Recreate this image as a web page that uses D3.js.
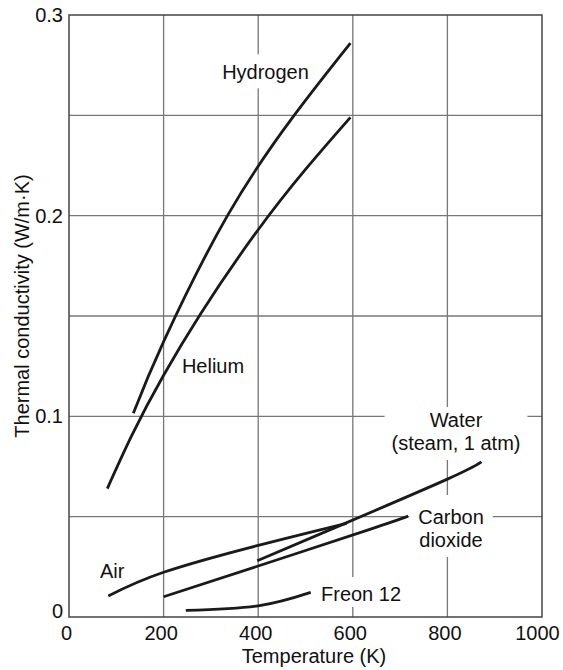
<!DOCTYPE html>
<html>
<head>
<meta charset="utf-8">
<script src="https://cdn.jsdelivr.net/npm/d3@7"></script>
<style>
  html, body { margin: 0; padding: 0; background: #fff; }
  svg { display: block; }
  text { font-family: "Liberation Sans", Arial, Helvetica, sans-serif; fill: #111; }
</style>
</head>
<body>
<svg id="chart" width="563" height="670"></svg>
<script>
// Thermal conductivity of gases vs temperature
const xTicks = [0, 200, 400, 600, 800, 1000];
const yTicks = [0, 0.1, 0.2, 0.3];
const xGrid = [200, 400, 600, 800];
const yGrid = [0.05, 0.1, 0.15, 0.2, 0.25];

const hydrogenT = [136, 200, 335, 476, 595];
const hydrogenK = [0.1015, 0.1372, 0.2, 0.25, 0.286];

const heliumT = [81, 200, 400, 595];
const heliumK = [0.064, 0.1205, 0.193, 0.249];

const airT = [83, 200, 400, 587];
const airK = [0.0105, 0.0223, 0.0357, 0.0467];

const co2T = [200, 400, 636, 717];
const co2K = [0.0101, 0.0254, 0.0437, 0.0503];

const waterT = [398, 580, 800, 872];
const waterK = [0.028, 0.0463, 0.0687, 0.0773];

const freonT = [247, 400, 511];
const freonK = [0.0033, 0.0056, 0.0123];

const seriesNames = ["Hydrogen", "Helium", "Air", "Carbon dioxide", "Water", "Freon 12"];
const seriesT = [hydrogenT, heliumT, airT, co2T, waterT, freonT];
const seriesK = [hydrogenK, heliumK, airK, co2K, waterK, freonK];

const svg = d3.select("#chart");
const plot = { left: 69, right: 542, top: 15, bottom: 617 };

const x = d3.scaleLinear().domain([0, 1000]).range([plot.left, plot.right]);
const y = d3.scaleLinear().domain([0, 0.3]).range([plot.bottom, plot.top]);

const FONT = 20;

// grid
const grid = svg.append("g").attr("stroke", "#777").attr("stroke-width", 1.3);
grid.selectAll("line.v").data(xGrid).join("line")
  .attr("x1", d => x(d)).attr("x2", d => x(d))
  .attr("y1", plot.top).attr("y2", plot.bottom);
grid.selectAll("line.h").data(yGrid).join("line")
  .attr("x1", plot.left).attr("x2", plot.right)
  .attr("y1", d => y(d)).attr("y2", d => y(d));

// in-plot labels; each sits on a white box that interrupts the grid
// pad = [horizontal, top, bottom]
const labels = [
  { lines: ["Hydrogen"], cx: 265.5, base: 79.3, anchor: "middle", pad: [6, 7, 5] },
  { lines: ["Helium"], cx: 213, base: 372.5, anchor: "middle", pad: [4, 2, 2] },
  { lines: ["Water", "(steam, 1 atm)"], cx: 456, base: 427, anchor: "middle", pad: [7, 2, 6] },
  { lines: ["Carbon", "dioxide"], cx: 451, base: 524, anchor: "middle", pad: [9, 11, 6] },
  { lines: ["Freon 12"], cx: 321, base: 601, anchor: "start", pad: [5, 6, 2] },
  { lines: ["Air"], cx: 100, base: 578, anchor: "start", pad: [3, 2, 2] }
];
const lineGap = 23;

const boxLayer = svg.append("g");
const curveLayer = svg.append("g");
const textLayer = svg.append("g");

labels.forEach(l => {
  const g = textLayer.append("g");
  l.lines.forEach((s, i) => {
    g.append("text")
      .attr("x", l.cx).attr("y", l.base + i * lineGap)
      .attr("text-anchor", l.anchor)
      .attr("font-size", FONT)
      .text(s);
  });
  const bb = g.node().getBBox();
  boxLayer.append("rect")
    .attr("x", bb.x - l.pad[0]).attr("y", bb.y - l.pad[1])
    .attr("width", bb.width + 2 * l.pad[0]).attr("height", bb.height + l.pad[1] + l.pad[2])
    .attr("fill", "#fff");
});

// frame
svg.append("rect")
  .attr("x", plot.left).attr("y", plot.top)
  .attr("width", plot.right - plot.left).attr("height", plot.bottom - plot.top)
  .attr("fill", "none").attr("stroke", "#444").attr("stroke-width", 1.5);

// curves
const line = d3.line()
  .x(d => x(d[0])).y(d => y(d[1]))
  .curve(d3.curveNatural);

seriesT.forEach((ts, i) => {
  const pts = ts.map((t, j) => [t, seriesK[i][j]]);
  curveLayer.append("path")
    .attr("d", line(pts))
    .attr("fill", "none")
    .attr("stroke", "#1a1a1a")
    .attr("stroke-width", 2.8)
    .attr("stroke-linecap", "butt")
    .attr("data-name", seriesNames[i]);
});

// axes (labels only, no tick marks)
const xAxis = d3.axisBottom(x).tickValues(xTicks).tickSize(0).tickPadding(9).tickFormat(d3.format("d"));
const gx = svg.append("g").attr("transform", `translate(0,${plot.bottom})`).call(xAxis);
gx.select(".domain").remove();
gx.selectAll("text").attr("font-size", FONT).attr("font-family", null).attr("fill", "#111")
  .attr("dx", d => d === 1000 ? -5 : -3);

const yAxis = d3.axisLeft(y).tickValues(yTicks).tickSize(0).tickPadding(6)
  .tickFormat(d => d === 0 ? "0" : d3.format(".1f")(d));
const gy = svg.append("g").attr("transform", `translate(${plot.left},0)`).call(yAxis);
gy.select(".domain").remove();
gy.selectAll("text").attr("font-size", FONT).attr("font-family", null).attr("fill", "#111");
gy.selectAll(".tick").filter(d => d === 0).select("text").attr("dy", "0.0em");

// axis titles
svg.append("text")
  .attr("x", 314).attr("y", 663)
  .attr("text-anchor", "middle")
  .attr("font-size", FONT)
  .text("Temperature (K)");

svg.append("text")
  .attr("transform", "translate(29,306) rotate(-90)")
  .attr("text-anchor", "middle")
  .attr("font-size", FONT)
  .text("Thermal conductivity (W/m·K)");
</script>
</body>
</html>
